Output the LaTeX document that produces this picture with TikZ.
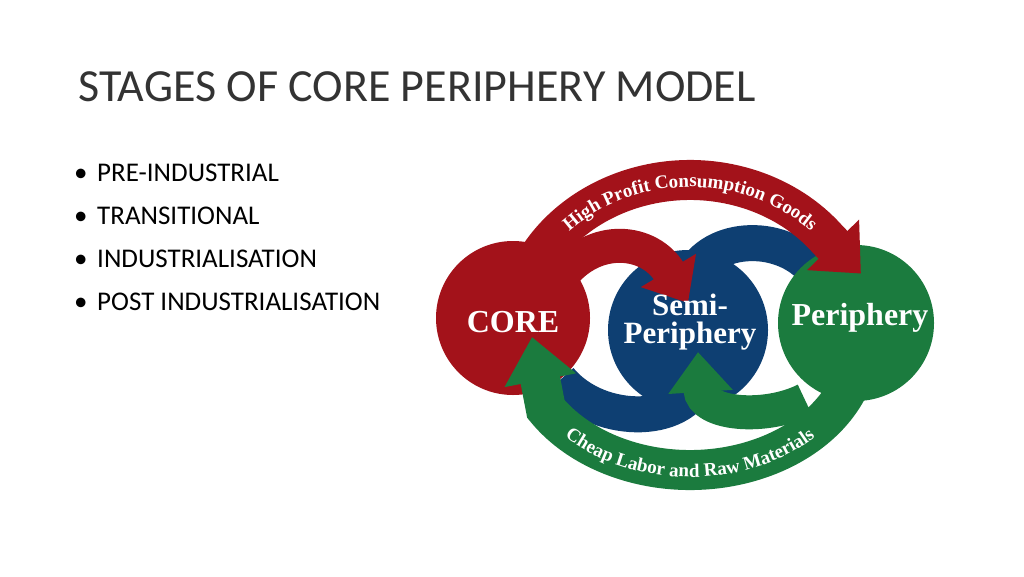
\documentclass[tikz,border=0pt]{standalone}
\usepackage{fontspec}
\setmainfont{Carlito}
\newfontfamily\serifb{Liberation Serif}
\usetikzlibrary{arrows.meta,decorations.text}
\definecolor{cred}{HTML}{A3121A}
\definecolor{cblue}{HTML}{0E3F72}
\definecolor{cgreen}{HTML}{1B7B3E}
\begin{document}
\begin{tikzpicture}[x=1pt,y=-1pt,
  band/.style={line width=#1},
  lbl/.style={text=white,align=center}]
\path[fill=white] (0,0) rectangle (1024,576);
\node[anchor=base west,font=\fontsize{46}{46}\selectfont,text=black!80,inner sep=0] (title) at (78,101) {STAGES OF CORE PERIPHERY MODEL};
\foreach \t [count=\i] in {PRE-INDUSTRIAL,TRANSITIONAL,INDUSTRIALISATION,POST INDUSTRIALISATION}{
  \node[anchor=base west,font=\fontsize{27}{27}\selectfont,inner sep=0] (b\i) at (97,181+43*\i-43) {\t};
  \node[anchor=base west,font=\fontsize{27}{27}\selectfont,inner sep=0] (d\i) at (74,181+43*\i-43) {\textbullet};
}
% blue bands
\draw[cblue,band=36] (690,285) .. controls (700,238) and (775,228) .. (812,268);
\draw[cblue,band=36] (700,375) .. controls (690,425) and (600,428) .. (560,380);
% circles
\node[circle,fill=cred,minimum size=154,inner sep=0] (core) at (513,318) {};
\node[circle,fill=cgreen,minimum size=156,inner sep=0] (peri) at (856,323) {};
\node[circle,fill=cblue,minimum size=160,inner sep=0] (semi) at (688,330) {};
% inner arrows
\draw[cred,band=34,-{Triangle[length=38pt,width=62pt]}] (560,278) .. controls (595,232) and (650,240) .. (688,303);
\draw[cgreen,band=34,-{Triangle[length=40pt,width=62pt]}] (805,400) .. controls (765,420) and (702,415) .. (698,352);
% big arcs
\draw[cred,band=40,-{Triangle[length=40pt,width=70pt]}] (690,335) ++(200:175 and 155) arc[start angle=200,end angle=322,x radius=175,y radius=155] -- ++(33,34);
\draw[cgreen,band=40,-{Triangle[length=44pt,width=70pt]}] (690,340) ++(20:170 and 130) arc[start angle=20,end angle=148,x radius=170,y radius=130] -- (532,337);
% arc texts
\path[decorate,decoration={text along path,text align=center,
  text={|\serifb\bfseries\fontsize{19}{19}\selectfont\color{white}|High Profit Consumption Goods}}]
  (690,335) ++(200:169 and 148) arc[start angle=200,end angle=340,x radius=169,y radius=148];
\path[decorate,decoration={text along path,text align=center,
  text={|\serifb\bfseries\fontsize{19}{19}\selectfont\color{white}|Cheap Labor and Raw Materials}}]
  (690,340) ++(162:177 and 137) arc[start angle=162,end angle=18,x radius=177,y radius=137];
% labels
\node[lbl,font=\serifb\bfseries\fontsize{32}{32}\selectfont] (corel) at (513,322) {CORE};
\node[lbl,font=\serifb\bfseries\fontsize{31}{28}\selectfont] (semil) at (690,322) {Semi-\\Periphery};
\node[lbl,font=\serifb\bfseries\fontsize{32}{32}\selectfont] (peril) at (860,318) {Periphery};
\end{tikzpicture}
\end{document}
